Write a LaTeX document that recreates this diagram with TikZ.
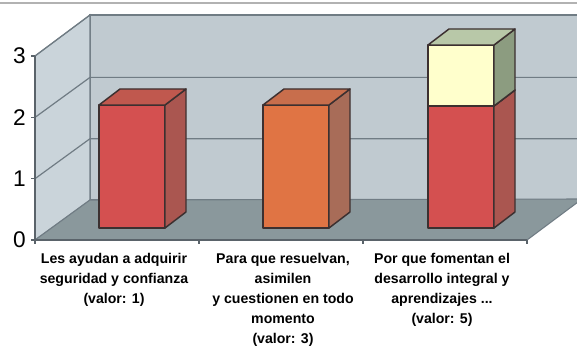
\documentclass[tikz,border=0pt]{standalone}
\usepackage{fontspec}
\setmainfont{Liberation Sans}
\definecolor{redf}{RGB}{212,80,80}
\definecolor{reds}{RGB}{170,86,80}
\definecolor{redt}{RGB}{192,88,78}
\definecolor{orf}{RGB}{224,116,68}
\definecolor{ors}{RGB}{168,108,88}
\definecolor{ort}{RGB}{200,110,76}
\definecolor{yelf}{RGB}{255,255,204}
\definecolor{yels}{RGB}{140,156,128}
\definecolor{yelt}{RGB}{184,200,168}
\definecolor{backw}{RGB}{192,202,208}
\definecolor{sidew}{RGB}{202,212,218}
\definecolor{floorc}{RGB}{138,152,156}
\definecolor{gridc}{RGB}{112,124,132}
\definecolor{outl}{RGB}{60,48,48}
\newcommand\mybarface[6]{%
  \filldraw[fill=#4,draw=outl,line width=1.1pt,line join=round] (#1,#2) rectangle ({#1+66},#3);
  \filldraw[fill=#5,draw=outl,line width=1.1pt,line join=round] ({#1+66},#2) -- ({#1+87},{#2-16}) -- ({#1+87},{#3-16}) -- ({#1+66},#3) -- cycle;
  \filldraw[fill=#6,draw=outl,line width=1.1pt,line join=round] (#1,#3) -- ({#1+21},{#3-16}) -- ({#1+87},{#3-16}) -- ({#1+66},#3) -- cycle;
}
\tikzset{
  wall/.style={draw=gridc,line width=0.8pt},
  gridl/.style={draw=gridc,line width=0.9pt},
  ticklab/.style={font=\fontsize{17}{17}\selectfont,anchor=east,inner sep=0pt},
  catlab/.style={font=\fontsize{10.6}{15}\selectfont\bfseries,align=center,anchor=north,inner sep=0pt},
}
\begin{document}
\begin{tikzpicture}[x=0.75pt,y=-0.75pt]
\useasboundingbox (0,0) rectangle (577,349);
\fill[white] (0,0) rectangle (577,349);
\begin{scope}
\clip (0,0) rectangle (577,349);
\draw[gray!60,line width=0.8pt] (0,3) -- (577,3);
% walls
\filldraw[fill=backw,wall] (90,15) rectangle (600,200);
\filldraw[fill=sidew,wall] (35,56) -- (90,15) -- (90,200) -- (35,240) -- cycle;
\filldraw[fill=floorc,wall] (35,240) -- (527,240) -- (582,199) -- (90,200) -- cycle;
% grid
\draw[gridl] (35,178.7) -- (90,138.7) -- (600,138.7);
\draw[gridl] (35,117.4) -- (90,77.4) -- (600,77.4);
\draw[gridl] (35,56) -- (90,15) -- (600,15);
% bars
\mybarface{99}{228}{105}{redf}{reds}{redt}
\mybarface{263}{228}{105}{orf}{ors}{ort}
\mybarface{428}{228}{106}{redf}{reds}{redt}
\mybarface{428}{106}{45}{yelf}{yels}{yelt}
% axes
\draw[gridc!80!black,line width=1pt] (35,56) -- (35,240) -- (527,240);
\foreach \yy in {56,117.4,178.7,240} \draw[gridc!80!black,line width=0.8pt] (31,\yy) -- (35,\yy);
\foreach \xx in {35,199,363,527} \draw[gridc!80!black,line width=0.8pt] (\xx,240) -- (\xx,244);
\end{scope}
% labels
\node[ticklab] (t3) at (26,56) {3};
\node[ticklab] (t2) at (26,117.4) {2};
\node[ticklab] (t1) at (26,178.7) {1};
\node[ticklab] (t0) at (26,240) {0};
\node[catlab] (c1) at (114,253) {Les ayudan a adquirir\\seguridad y confianza\\(valor: 1)};
\node[catlab] (c2) at (283,253) {Para que resuelvan,\\asimilen\\y cuestionen en todo\\momento\\(valor: 3)};
\node[catlab] (c3) at (442,253) {Por que fomentan el\\desarrollo integral y\\aprendizajes ...\\(valor: 5)};
\end{tikzpicture}
\end{document}
